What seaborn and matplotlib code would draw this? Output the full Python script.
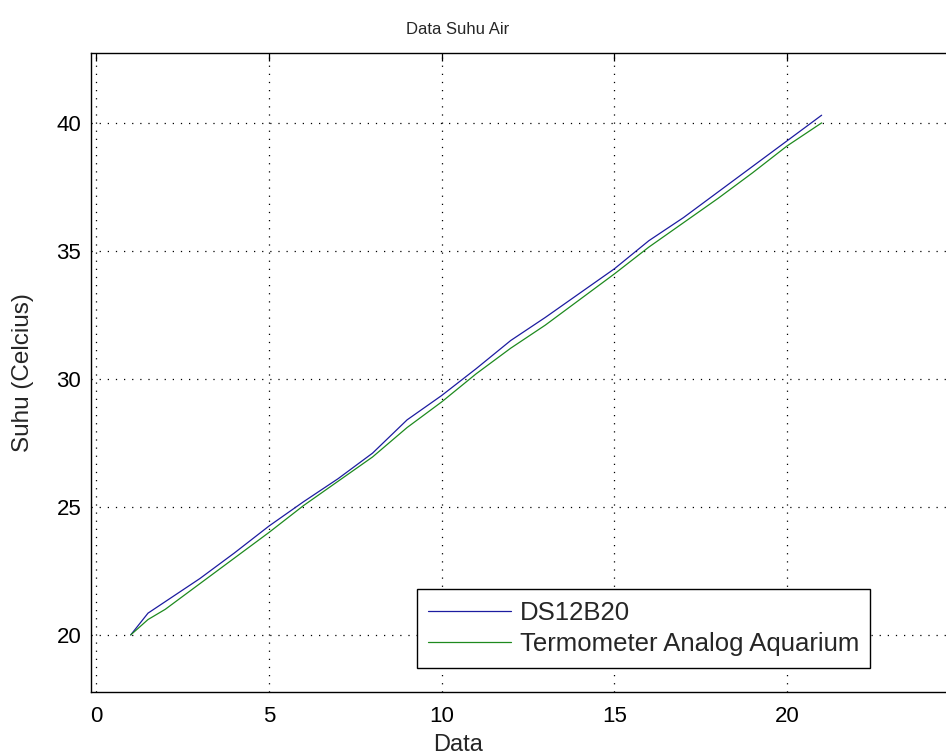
import numpy as np
import pandas as pd
import matplotlib
matplotlib.use('Agg')
import matplotlib.pyplot as plt
import seaborn as sns

sns.set_style('white')
plt.rcParams['font.family'] = ['Liberation Sans', 'DejaVu Sans']

# data readings (x = data index, temperature in Celsius)
data_idx = [1, 1.5, 2, 3, 4, 5, 6, 7, 8, 9, 10, 11, 12, 13, 14, 15, 16, 17, 18, 19, 20, 21]
ds12b20 = [20.0, 20.85, 21.3, 22.2, 23.2, 24.25, 25.2, 26.1, 27.1, 28.4, 29.35, 30.4,
           31.5, 32.4, 33.35, 34.3, 35.4, 36.3, 37.3, 38.3, 39.3, 40.3]
termometer = [20.0, 20.6, 21.0, 22.0, 23.0, 24.0, 25.05, 26.0, 26.95, 28.1, 29.1, 30.2,
              31.2, 32.1, 33.1, 34.1, 35.15, 36.1, 37.05, 38.05, 39.1, 40.0]

df = pd.DataFrame({'Data': data_idx * 2,
                   'Suhu': ds12b20 + termometer,
                   'Sensor': ['DS12B20'] * len(data_idx) + ['Termometer Analog Aquarium'] * len(data_idx)})

fig = plt.figure(figsize=(9.46, 7.56), dpi=100)
ax = fig.add_axes([91/946, 64/756, 1 - 91/946, (692-53)/756])

sns.lineplot(data=df, x='Data', y='Suhu', hue='Sensor',
             palette=['#1c1ca0', '#1e8a1e'], linewidth=0.9, ax=ax, legend=True)

ax.set_xlim(-0.15, 24.6)
ax.set_ylim(17.77, 42.73)
ax.set_xticks([0, 5, 10, 15, 20])
ax.set_yticks([20, 25, 30, 35, 40])
ax.grid(True, color='black', linestyle=(0, (1, 5.5)), linewidth=0.9)
ax.tick_params(direction='in', length=6, width=0.9, top=True, right=False,
               labelsize=16, pad=7, colors='black')
ax.tick_params(axis='x', pad=10)
for side in ['left', 'bottom', 'top']:
    ax.spines[side].set_color('black')
    ax.spines[side].set_linewidth(1.0)
ax.spines['right'].set_visible(False)

ax.set_title('Data Suhu Air', fontsize=12, x=0.429, pad=14)
ax.set_xlabel('Data', fontsize=17)
ax.set_ylabel('Suhu (Celcius)', fontsize=17.5)
ax.xaxis.set_label_coords(0.429, -0.066)
ax.yaxis.set_label_coords(-0.067, 0.5)

leg = ax.legend(loc='lower left', bbox_to_anchor=(0.381, 0.0376), fontsize=18.5,
                frameon=True, fancybox=False, framealpha=1, edgecolor='black',
                handlelength=3.2, handletextpad=0.35, borderpad=0.45, labelspacing=0.3,
                borderaxespad=0)
leg.set_title(None)
leg.get_frame().set_linewidth(1.0)

fig.savefig('out.png', dpi=100)
